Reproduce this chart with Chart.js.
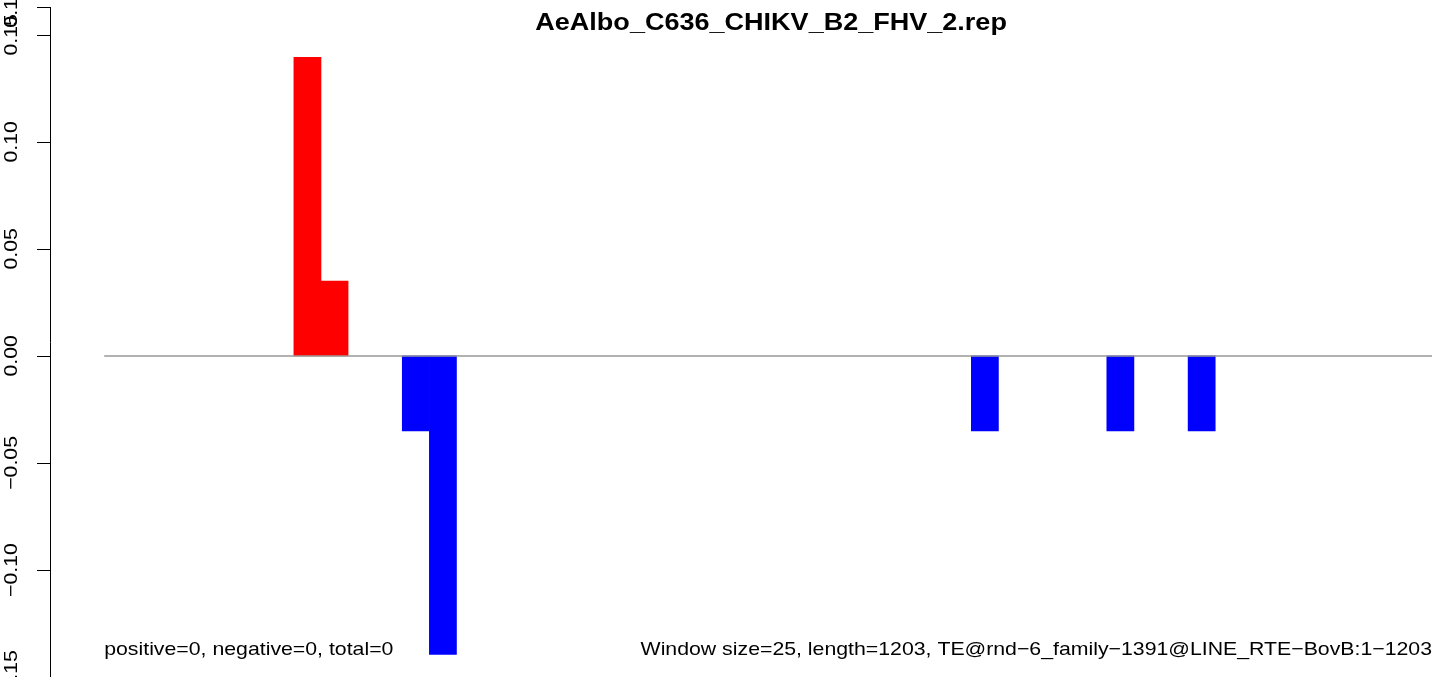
<!DOCTYPE html>
<html>
<head>
<meta charset="utf-8">
<script src="https://cdn.jsdelivr.net/npm/chart.js@4/dist/chart.umd.min.js"></script>
<style>
  body { margin: 0; background: #fff; }
  canvas { display: block; }
</style>
</head>
<body>
<canvas id="chart" width="1444" height="677"></canvas>
<script>
"use strict";

// window bins (25 bp each, 1203 bp => 49 windows), plus two empty slots left of the plot
var windowStarts = [];
for (var w = 0; w < 49; w++) { windowStarts.push(String(w * 25 + 1)); }
var leadSlots = ["", ""];

// non-zero windows
var posBins = [7, 8];
var posValues = [0.1395, 0.035];
var negBins = [11, 12, 32, 37, 40];
var negValues = [-0.035, -0.1395, -0.035, -0.035, -0.035];

var yTicks = [-0.15, -0.10, -0.05, 0.00, 0.05, 0.10, 0.15];
var yMin = -0.15, yMax = 0.163;

var titleText = "AeAlbo_C636_CHIKV_B2_FHV_2.rep";
var leftNote = "positive=0, negative=0, total=0";
var rightNote = "Window size=25, length=1203, TE@rnd\u22126_family\u22121391@LINE_RTE\u2212BovB:1\u22121203";

// build dense arrays for the library
var labels = leadSlots.concat(windowStarts);
var posData = labels.map(function () { return null; });
var negData = labels.map(function () { return null; });
posBins.forEach(function (b, i) { posData[b + leadSlots.length] = posValues[i]; });
negBins.forEach(function (b, i) { negData[b + leadSlots.length] = negValues[i]; });

var FONT = '"Liberation Sans", Arial, Helvetica, sans-serif';
var SX = 1.15; // text in the reference is drawn a bit wide

function wideText(ctx, text, x, y, font, align, angle) {
    ctx.save();
    ctx.translate(x, y);
    if (angle) { ctx.rotate(angle); }
    ctx.scale(SX, 1);
    ctx.font = font;
    ctx.fillStyle = "#000";
    ctx.textAlign = align;
    ctx.textBaseline = "alphabetic";
    ctx.fillText(text, 0, 0);
    ctx.restore();
}

var decorations = {
    id: "decorations",
    afterDatasetsDraw: function (chart) {
        var ctx = chart.ctx,
            xs = chart.scales.x,
            ys = chart.scales.y,
            slot = xs.width / labels.length,
            x0 = xs.getPixelForValue(leadSlots.length) - slot / 2,
            x1 = xs.getPixelForValue(labels.length - 1) + slot / 2,
            zeroY = ys.getPixelForValue(0),
            axisX = xs.left;

        // zero line
        ctx.save();
        ctx.strokeStyle = "#999";
        ctx.lineWidth = 1.5;
        ctx.beginPath();
        ctx.moveTo(x0, zeroY);
        ctx.lineTo(x1, zeroY);
        ctx.stroke();

        // y axis
        ctx.strokeStyle = "#000";
        ctx.lineWidth = 1;
        ctx.beginPath();
        ctx.moveTo(axisX + 0.5, ys.getPixelForValue(yMax));
        ctx.lineTo(axisX + 0.5, ys.getPixelForValue(yMin) + 5);
        var allTicks = yTicks.concat([yMax]);
        allTicks.forEach(function (v) {
            var py = Math.round(ys.getPixelForValue(v)) + 0.5;
            ctx.moveTo(axisX - 13, py);
            ctx.lineTo(axisX + 0.5, py);
        });
        ctx.stroke();
        ctx.restore();

        allTicks.forEach(function (v) {
            var txt = v.toFixed(2).replace("-", "\u2212");
            wideText(ctx, txt, axisX - 33, ys.getPixelForValue(v), "18.5px " + FONT, "center", -Math.PI / 2);
        });

        // title and notes
        wideText(ctx, titleText, (x0 + x1) / 2 + 3, 30, "bold 23.5px " + FONT, "center");
        wideText(ctx, leftNote, x0, 655, "18.5px " + FONT, "left");
        wideText(ctx, rightNote, x1, 655, "18.5px " + FONT, "right");
    }
};

var ctx = document.getElementById("chart").getContext("2d");
window.chart = new Chart(ctx, {
    type: "bar",
    data: {
        labels: labels,
        datasets: [
            {
                label: "positive",
                data: posData,
                backgroundColor: "#ff0000",
                borderWidth: 0,
                grouped: false,
                barPercentage: 1,
                categoryPercentage: 1
            },
            {
                label: "negative",
                data: negData,
                backgroundColor: "#0000ff",
                borderWidth: 0,
                grouped: false,
                barPercentage: 1,
                categoryPercentage: 1
            }
        ]
    },
    options: {
        responsive: false,
        devicePixelRatio: 1,
        animation: false,
        layout: { padding: { left: 50, right: 12, top: 7, bottom: 0 } },
        plugins: {
            legend: { display: false },
            tooltip: { enabled: false },
            title: { display: false }
        },
        scales: {
            x: { display: false, grid: { display: false } },
            y: { display: false, min: yMin, max: yMax, grid: { display: false } }
        }
    },
    plugins: [decorations]
});
</script>
</body>
</html>
